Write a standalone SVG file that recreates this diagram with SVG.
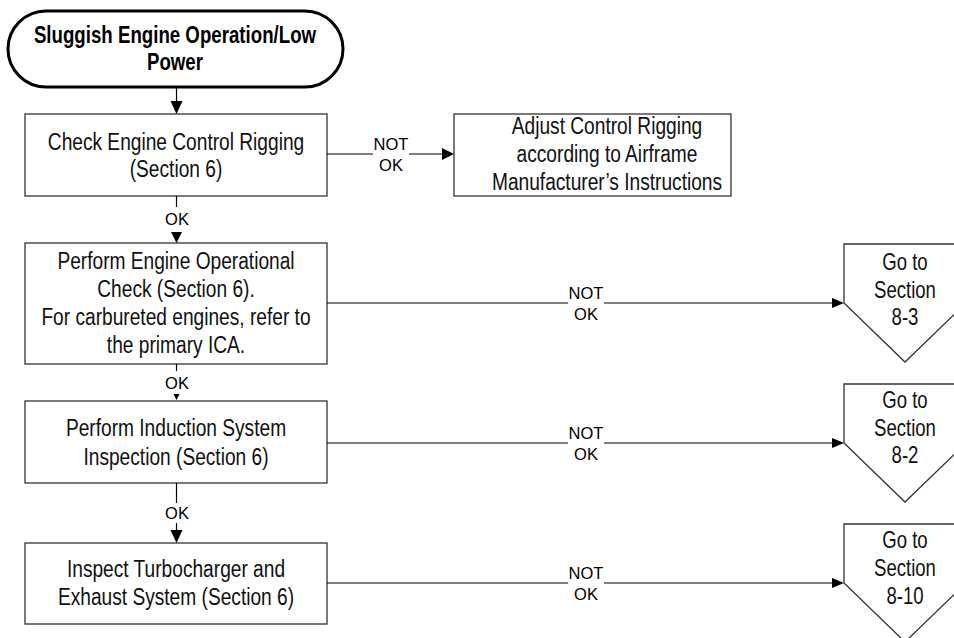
<svg xmlns="http://www.w3.org/2000/svg" width="954" height="638" viewBox="0 0 954 638">
<defs>
<style>
.bg{fill:#ffffff}
.box{fill:#ffffff;stroke:#333333;stroke-width:1.3}
.term{fill:#ffffff;stroke:#000000;stroke-width:3}
.t{font-family:"Liberation Sans",Arial,sans-serif;font-size:23.5px;fill:#111111;text-anchor:middle}
.tb{font-family:"Liberation Sans",Arial,sans-serif;font-size:23.5px;font-weight:bold;fill:#000000;text-anchor:middle}
.lbl{font-family:"Liberation Sans",Arial,sans-serif;font-size:16.5px;fill:#000000;text-anchor:middle}
.ln{stroke:#000000;stroke-width:1.2;fill:none}
.ah{fill:#000000}
</style>
</defs>
<rect class="bg" x="0" y="0" width="954" height="638"/>

<g id="start">
<rect class="term" x="8" y="11" width="335" height="76" rx="38" ry="38"/>
<text class="tb" transform="translate(175 0) scale(0.795 1)"><tspan x="0" y="43">Sluggish Engine Operation/Low</tspan><tspan x="0" y="70">Power</tspan></text>
</g>

<g id="check-rigging">
<rect class="box" x="25" y="114" width="302" height="82"/>
<text class="t" transform="translate(176 0) scale(0.815 1)"><tspan x="0" y="150">Check Engine Control Rigging</tspan><tspan x="0" y="177">(Section 6)</tspan></text>
</g>

<g id="adjust-rigging">
<rect class="box" x="454" y="114" width="277" height="82"/>
<text class="t" transform="translate(607 0) scale(0.815 1)"><tspan x="0" y="134">Adjust Control Rigging</tspan><tspan x="0" y="162.5">according to Airframe</tspan><tspan x="0" y="190.5">Manufacturer’s Instructions</tspan></text>
</g>

<g id="operational-check">
<rect class="box" x="25" y="243" width="302" height="121"/>
<text class="t" transform="translate(176 0) scale(0.815 1)"><tspan x="0" y="269">Perform Engine Operational</tspan><tspan x="0" y="297.5">Check (Section 6).</tspan><tspan x="0" y="325.5">For carbureted engines, refer to</tspan><tspan x="0" y="353">the primary ICA.</tspan></text>
</g>

<g id="induction-inspection">
<rect class="box" x="25" y="401" width="302" height="82"/>
<text class="t" transform="translate(176 0) scale(0.815 1)"><tspan x="0" y="436.5">Perform Induction System</tspan><tspan x="0" y="465">Inspection (Section 6)</tspan></text>
</g>

<g id="turbo-inspection">
<rect class="box" x="25" y="543" width="302" height="81"/>
<text class="t" transform="translate(176 0) scale(0.815 1)"><tspan x="0" y="577">Inspect Turbocharger and</tspan><tspan x="0" y="605.5">Exhaust System (Section 6)</tspan></text>
</g>

<g id="goto-8-3">
<polygon class="box" points="844,244 966,244 966,303 905,362 844,303"/>
<text class="t" transform="translate(905 0) scale(0.79 1)"><tspan x="0" y="270">Go to</tspan><tspan x="0" y="298">Section</tspan><tspan x="0" y="325.5">8-3</tspan></text>
</g>

<g id="goto-8-2">
<polygon class="box" points="844,384 966,384 966,443 905,502 844,443"/>
<text class="t" transform="translate(905 0) scale(0.79 1)"><tspan x="0" y="408">Go to</tspan><tspan x="0" y="436">Section</tspan><tspan x="0" y="463.5">8-2</tspan></text>
</g>

<g id="goto-8-10">
<polygon class="box" points="844,524 966,524 966,583 905,642 844,583"/>
<text class="t" transform="translate(905 0) scale(0.79 1)"><tspan x="0" y="548.5">Go to</tspan><tspan x="0" y="576.5">Section</tspan><tspan x="0" y="604">8-10</tspan></text>
</g>

<g id="connectors">
<line class="ln" x1="176.5" y1="88" x2="176.5" y2="101"/>
<polygon class="ah" points="170.5,101 182.5,101 176.5,114"/>

<line class="ln" x1="327" y1="154" x2="373" y2="154"/>
<line class="ln" x1="409" y1="154" x2="443" y2="154"/>
<polygon class="ah" points="442,148 454,154 442,160"/>
<text class="lbl"><tspan x="391" y="150">NOT</tspan><tspan x="391" y="170.5">OK</tspan></text>

<line class="ln" x1="176.5" y1="196" x2="176.5" y2="207"/>
<polygon class="ah" points="171,232 182,232 176.5,243"/>
<text class="lbl" x="177" y="225">OK</text>

<line class="ln" x1="327" y1="303" x2="568" y2="303"/>
<line class="ln" x1="604" y1="303" x2="833" y2="303"/>
<polygon class="ah" points="832,298 844,303 832,308"/>
<text class="lbl"><tspan x="586" y="298.5">NOT</tspan><tspan x="586" y="319.5">OK</tspan></text>

<line class="ln" x1="176.5" y1="364" x2="176.5" y2="371"/>
<polygon class="ah" points="173.5,394 179.5,394 176.5,400"/>
<text class="lbl" x="177" y="389">OK</text>

<line class="ln" x1="327" y1="443" x2="568" y2="443"/>
<line class="ln" x1="604" y1="443" x2="833" y2="443"/>
<polygon class="ah" points="832,438 844,443 832,448"/>
<text class="lbl"><tspan x="586" y="438.5">NOT</tspan><tspan x="586" y="459.5">OK</tspan></text>

<line class="ln" x1="176.5" y1="483" x2="176.5" y2="503"/>
<line class="ln" x1="176.5" y1="523" x2="176.5" y2="531"/>
<polygon class="ah" points="170.5,530 182.5,530 176.5,543"/>
<text class="lbl" x="177" y="519">OK</text>

<line class="ln" x1="327" y1="583" x2="568" y2="583"/>
<line class="ln" x1="604" y1="583" x2="833" y2="583"/>
<polygon class="ah" points="832,578 844,583 832,588"/>
<text class="lbl"><tspan x="586" y="578.5">NOT</tspan><tspan x="586" y="599.5">OK</tspan></text>
</g>
</svg>
